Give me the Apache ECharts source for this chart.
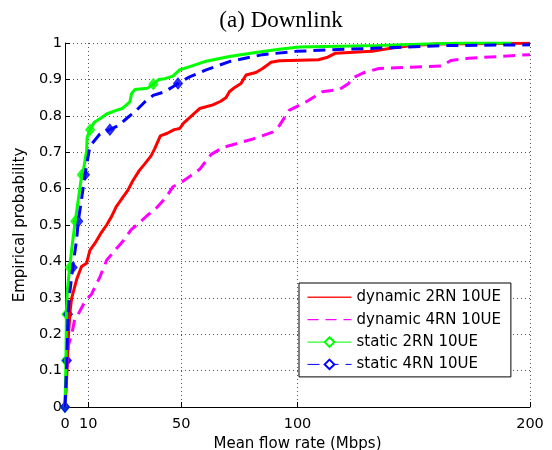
<!DOCTYPE html>
<html><head><meta charset="utf-8">
<script src="https://cdn.jsdelivr.net/npm/echarts@6/dist/echarts.min.js"></script>
<style>html,body{margin:0;padding:0;background:#fff}#c{width:552px;height:450px}</style>
</head><body><div id="c"></div>
<script>
const seriesNames = ['dynamic 2RN 10UE','dynamic 4RN 10UE','static 2RN 10UE','static 4RN 10UE'];
const xTicks = [0,10,50,100,200];
const dyn2 = [[0,0],[0.5,0.05],[1,0.12],[1.5,0.2],[2.3,0.27],[2.9,0.3],[5,0.35],[7.1,0.386],[9.3,0.395],[10.7,0.43],[12.9,0.45],[15.7,0.48],[17.9,0.5],[20,0.523],[22,0.55],[25,0.577],[27,0.595],[29.3,0.623],[32,0.65],[34.3,0.668],[37,0.69],[38.6,0.71],[41,0.745],[44,0.752],[47,0.762],[49.3,0.765],[51,0.78],[53.6,0.795],[57.9,0.82],[63.6,0.83],[67,0.84],[69.3,0.85],[70.7,0.866],[73,0.878],[75.7,0.889],[77.9,0.912],[82.1,0.919],[85,0.93],[87.2,0.94],[88.6,0.947],[92.2,0.951],[109,0.954],[113,0.961],[116.4,0.972],[132,0.977],[140.7,0.986],[149.3,0.993],[160,0.997],[200,0.999]];
const dyn4 = [[0,0],[0.5,0.08],[1,0.13],[1.5,0.17],[2.9,0.2],[4.3,0.245],[5.7,0.255],[8.6,0.29],[11.4,0.31],[15,0.357],[17.9,0.403],[21.4,0.43],[25,0.456],[28.6,0.488],[32,0.506],[35,0.524],[39.3,0.547],[43.6,0.577],[46.4,0.605],[50.7,0.62],[54,0.635],[57.9,0.653],[62.9,0.694],[67.9,0.713],[80.7,0.736],[89.3,0.755],[92.2,0.773],[96.4,0.815],[103.6,0.838],[110.7,0.866],[117.9,0.872],[122,0.889],[123.6,0.903],[127.9,0.917],[135,0.93],[162,0.937],[166,0.952],[173.6,0.958],[200,0.968]];
const sta2 = [[0,0],[0.4,0.128],[0.6,0.255],[1,0.32],[2,0.383],[3,0.44],[4.4,0.51],[5.5,0.56],[7.2,0.638],[7.9,0.65],[9.3,0.705],[9.5,0.74],[10.8,0.762],[12.6,0.782],[15,0.792],[17.9,0.805],[22,0.815],[24.6,0.82],[27.9,0.838],[28.6,0.861],[30,0.872],[35.5,0.876],[38,0.887],[40.4,0.9],[43,0.902],[46.4,0.909],[49.3,0.926],[55,0.938],[60.7,0.95],[70.7,0.963],[82,0.974],[92.2,0.983],[100.7,0.989],[135,0.993],[156,0.997],[172,1],[192,1]];
const sta4 = [[0,0],[0.8,0.128],[1.3,0.255],[1.8,0.3],[3.3,0.383],[5,0.46],[5.7,0.51],[7.1,0.57],[8.6,0.638],[10.4,0.705],[11.4,0.722],[15,0.75],[19.3,0.762],[22.9,0.773],[27.1,0.796],[30.7,0.815],[34.3,0.838],[37.9,0.856],[42.9,0.866],[46.4,0.88],[48.6,0.889],[53.6,0.907],[60.7,0.926],[70.7,0.949],[85,0.968],[99.3,0.977],[113.6,0.981],[135,0.986],[163.6,0.993],[200,0.995]];
const sta2Markers = [[0,0],[0.4,0.128],[0.6,0.255],[2,0.383],[4.4,0.51],[7.2,0.638],[10.8,0.762],[38,0.887]];
const sta4Markers = [[0,0],[0.8,0.128],[1.3,0.255],[3.3,0.383],[5.7,0.51],[8.6,0.638],[19.3,0.762],[48.6,0.889]];

const FONT = 'DejaVu Sans';
const grid = {type:[1,3], color:'#555', width:1};
const solidIcon = 'path://M0,0h0.01v12h-0.01z M0,5h44v1.6h-44z';
const dashIcon = 'path://M0,0h0.01v12h-0.01z M0,5.2h11v1.3h-11z M18,5.2h11v1.3h-11z M36,5.2h8v1.3h-8z';
const chart = echarts.init(document.getElementById('c'), null, {renderer:'canvas'});
chart.setOption({
  animation:false,
  title:{text:'(a) Downlink', left:276, top:4, textAlign:'center',
    textStyle:{fontFamily:'Liberation Serif', fontSize:23, fontWeight:'normal', color:'#000'}},
  grid:{left:65, right:22, top:43, bottom:43, outerBoundsMode:'none', containLabel:false},
  xAxis:{type:'value', min:0, max:200,
    name:'Mean flow rate (Mbps)', nameLocation:'middle', nameGap:20.5,
    nameTextStyle:{fontFamily:FONT, fontSize:15, color:'#000'},
    axisLine:{lineStyle:{color:'#000', width:1}},
    axisTick:{inside:true, length:5, customValues:xTicks, lineStyle:{color:'#000'}},
    axisLabel:{customValues:xTicks, fontFamily:FONT, fontSize:14.5, color:'#000', margin:9.5},
    splitLine:{show:true, lineStyle:grid}},
  yAxis:{type:'value', min:0, max:1, interval:0.1,
    name:'Empirical probability', nameLocation:'middle', nameGap:37,
    nameTextStyle:{fontFamily:FONT, fontSize:15, color:'#000'},
    axisLine:{show:true, lineStyle:{color:'#000', width:1}},
    axisTick:{show:true, inside:true, length:5, lineStyle:{color:'#000'}},
    axisLabel:{fontFamily:FONT, fontSize:14.5, color:'#000', margin:3},
    splitLine:{show:true, lineStyle:grid}},
  legend:{data:[
      {name:seriesNames[0], icon:solidIcon, itemStyle:{color:'#ff2020', borderWidth:0}},
      {name:seriesNames[1], icon:dashIcon, itemStyle:{color:'#ff00ff', borderWidth:0}},
      {name:seriesNames[2]},
      {name:seriesNames[3]}],
    left:299, top:283, orient:'vertical',
    backgroundColor:'#fff', borderColor:'#000', borderWidth:1, borderRadius:0,
    padding:[7,10,5,8], itemWidth:44, itemHeight:12, itemGap:7.3,
    lineStyle:{width:1},
    textStyle:{fontFamily:FONT, fontSize:15, color:'#000'}},
  series:[
    {name:seriesNames[0], type:'line', data:dyn2, showSymbol:false, symbol:'none', color:'#ff0000',
      lineStyle:{width:3, color:'#ff0000'}},
    {name:seriesNames[1], type:'line', data:dyn4, showSymbol:false, symbol:'none', color:'#ff00ff',
      lineStyle:{width:3, color:'#ff00ff', type:[12,7]}},
    {name:seriesNames[2], type:'line', data:sta2, showSymbol:false, symbol:'emptyDiamond', symbolSize:10, color:'#00ff00',
      lineStyle:{width:3, color:'#00ff00'}},
    {name:seriesNames[3], type:'line', data:sta4, showSymbol:false, symbol:'emptyDiamond', symbolSize:10, color:'#0000ff',
      lineStyle:{width:3, color:'#0000ff', type:[12,7]}},
    {type:'scatter', data:sta2Markers, symbol:'diamond', symbolSize:[9,11], clip:false,
      itemStyle:{color:'#00ff00', borderColor:'#00ff00', borderWidth:1}},
    {type:'scatter', data:sta4Markers, symbol:'diamond', symbolSize:[9,11], clip:false,
      itemStyle:{color:'#0000ff', borderColor:'#0000ff', borderWidth:1}}
  ]
});
</script></body></html>
